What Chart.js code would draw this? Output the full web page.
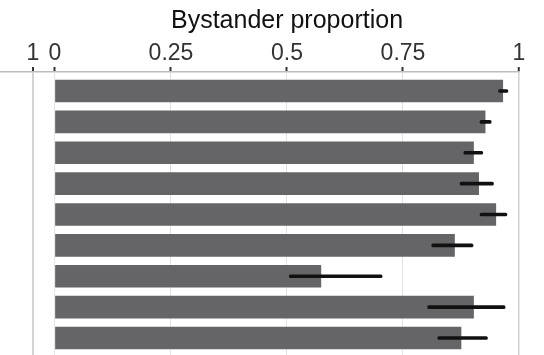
<!DOCTYPE html>
<html>
<head>
<meta charset="utf-8">
<script src="https://cdn.jsdelivr.net/npm/chart.js@4/dist/chart.umd.min.js"></script>
<style>
  html, body { margin: 0; padding: 0; background: #ffffff; overflow: hidden; width: 544px; height: 355px; }
  canvas { display: block; }
</style>
</head>
<body>
<canvas id="c" width="574" height="355"></canvas>
<script>
// Rows of the panel (top to bottom)
const categories = ['1', '2', '3', '4', '5', '6', '7', '8', '9'];
// Bystander proportion per row
const proportion = [0.965, 0.927, 0.902, 0.913, 0.950, 0.861, 0.573, 0.902, 0.875];
// Error bar extents
const errLow  = [0.956, 0.916, 0.881, 0.873, 0.916, 0.812, 0.505, 0.803, 0.825];
const errHigh = [0.976, 0.940, 0.922, 0.945, 0.974, 0.901, 0.705, 0.970, 0.932];
// Axis ticks (first one belongs to the neighbouring panel's "1")
const tickValues = [-0.0474, 0, 0.25, 0.5, 0.75, 1];
const tickLabels = ['1', '0', '0.25', '0.5', '0.75', '1'];

const barData = categories.map((c, i) => ({ y: i + 1, x: proportion[i] }));
const errData = categories.map((c, i) => ({ y: i + 1, x: [errLow[i], errHigh[i]] }));

function gridColor(ctx) {
  const v = ctx.tick ? ctx.tick.value : 0;
  if (v < 0) return '#d4d4d4';
  if (v === 0) return '#e6e6e6';
  if (v === 1) return '#d0d0d0';
  return '#e2e2e2';
}
function gridWidth(ctx) {
  const v = ctx.tick ? ctx.tick.value : 0;
  if (v < 0) return 2;
  if (v === 1) return 1.5;
  return 1;
}

new Chart(document.getElementById('c'), {
  type: 'bar',
  data: {
    datasets: [
      {
        label: 'error',
        data: errData,
        backgroundColor: '#111111',
        borderWidth: 0,
        barThickness: 3,
        borderRadius: 1.5,
        borderSkipped: false,
        grouped: false,
        order: 0
      },
      {
        label: 'Bystander proportion',
        data: barData,
        backgroundColor: '#656567',
        borderWidth: 0,
        barThickness: 22,
        grouped: false,
        order: 1
      }
    ]
  },
  options: {
    indexAxis: 'y',
    responsive: false,
    devicePixelRatio: 1,
    animation: false,
    layout: { padding: { left: 0, right: 0, top: 0, bottom: 0 } },
    plugins: {
      legend: { display: false },
      tooltip: { enabled: false },
      title: {
        display: true,
        text: 'Bystander proportion',
        color: '#111111',
        font: { family: "'Liberation Sans', Arial, sans-serif", size: 25, weight: 'normal' },
        padding: { top: 6, bottom: 3.4 }
      }
    },
    scales: {
      x: {
        type: 'linear',
        position: 'top',
        min: -0.1185,
        max: 1,
        afterBuildTicks: (scale) => { scale.ticks = tickValues.map(v => ({ value: v })); },
        ticks: {
          autoSkip: false,
          maxRotation: 0,
          padding: 0,
          color: '#333333',
          font: { family: "'Liberation Sans', Arial, sans-serif", size: 23 },
          callback: (value, index) => tickLabels[index]
        },
        grid: {
          color: gridColor,
          lineWidth: gridWidth,
          tickColor: '#333333',
          tickLength: 5,
          tickWidth: 2,
          drawOnChartArea: true
        },
        border: { display: true, color: '#bdbdbd', width: 1.5 }
      },
      y: {
        type: 'linear',
        position: 'right',
        reverse: true,
        offset: false,
        min: 0.3846,
        max: 9.5506,
        ticks: { display: false },
        grid: { display: false, offset: false },
        border: { display: false },
        afterFit: (scale) => { scale.width = 55; }
      }
    }
  }
});
</script>
</body>
</html>
